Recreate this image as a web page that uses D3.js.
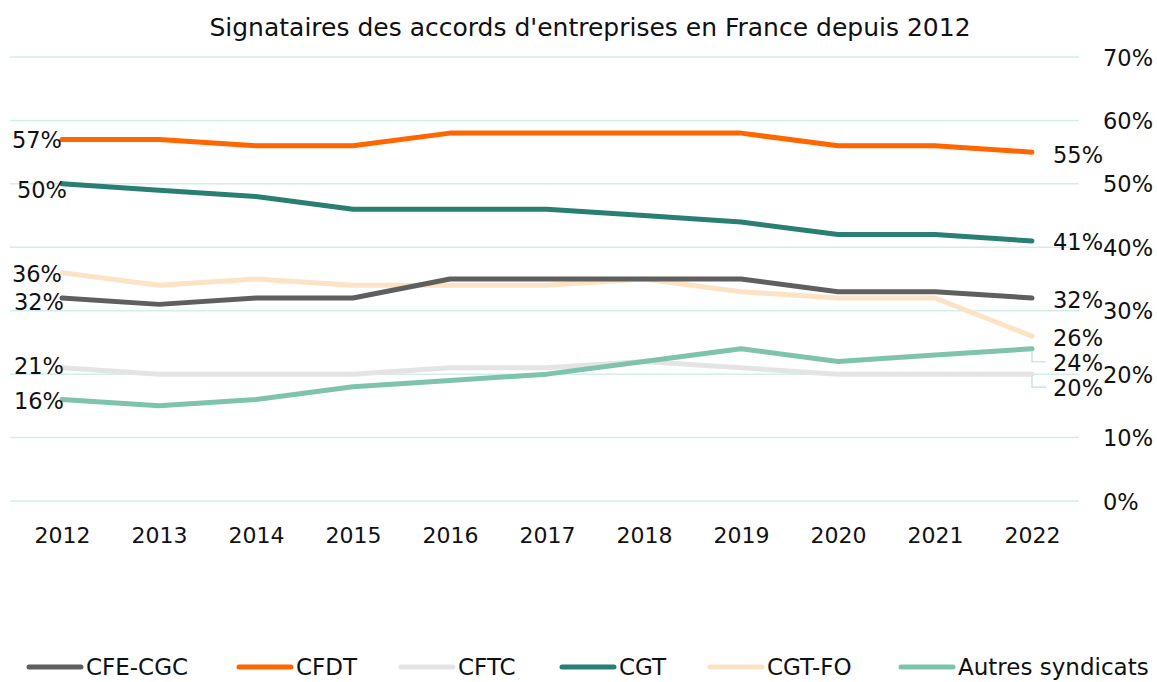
<!DOCTYPE html>
<html>
<head>
<meta charset="utf-8">
<script src="https://cdn.jsdelivr.net/npm/d3@7"></script>
<style>
  body { margin: 0; background: #fff; }
  text { font-family: "DejaVu Sans", "Liberation Sans", sans-serif; fill: #111; }
</style>
</head>
<body>
<script>
// chart data
var years = [2012, 2013, 2014, 2015, 2016, 2017, 2018, 2019, 2020, 2021, 2022];
var names = ["CFE-CGC", "CFDT", "CFTC", "CGT", "CGT-FO", "Autres syndicats"];
var cfeCgc = [32, 31, 32, 32, 35, 35, 35, 35, 33, 33, 32];
var cfdt   = [57, 57, 56, 56, 58, 58, 58, 58, 56, 56, 55];
var cftc   = [21, 20, 20, 20, 21, 21, 22, 21, 20, 20, 20];
var cgt    = [50, 49, 48, 46, 46, 46, 45, 44, 42, 42, 41];
var cgtFo  = [36, 34, 35, 34, 34, 34, 35, 33, 32, 32, 26];
var autres = [16, 15, 16, 18, 19, 20, 22, 24, 22, 23, 24];
var yTicks = [0, 10, 20, 30, 40, 50, 60, 70];

var colors = ["#5f5f5f", "#ff6600", "#e4e4e4", "#297f72", "#fbe3c4", "#7ec3ae"];
var seriesVals = [cfeCgc, cfdt, cftc, cgt, cgtFo, autres];

// label nudges (dx, dy) for first / last point labels
var leftNudge  = [[2, 4], [0, 0], [2, -2], [5, 6], [0, 1], [2, 1]];
var rightNudge = [[0, 2], [0, 3], [0, 14], [0, 1], [0, 2], [0, 14]];

var W = 1157, H = 682;
var svg = d3.select("body").append("svg")
    .attr("width", W)
    .attr("height", H);

var x = d3.scalePoint().domain(years).range([62, 1032]);
var y = d3.scaleLinear().domain([0, 70]).range([501, 57]);

// title
svg.append("text")
    .attr("x", 590).attr("y", 36)
    .attr("text-anchor", "middle")
    .style("font-size", "25px")
    .text("Signataires des accords d'entreprises en France depuis 2012");

// gridlines
svg.selectAll(".grid")
    .data(yTicks)
    .enter().append("line")
    .attr("x1", 10).attr("x2", 1079)
    .attr("y1", function(d) { return y(d); })
    .attr("y2", function(d) { return y(d); })
    .attr("stroke", "#d3eeea")
    .attr("stroke-width", 1.5);

// right axis
var yAxis = d3.axisRight(y).tickValues(yTicks).tickSize(0).tickPadding(0)
    .tickFormat(function(d) { return d + "%"; });
var ya = svg.append("g").attr("transform", "translate(1103,0)").call(yAxis);
ya.select(".domain").remove();
ya.selectAll("text").style("font-size", "22.5px").attr("fill", "#111").attr("dy", "0.36em");

// bottom axis
var xAxis = d3.axisBottom(x).tickSize(0).tickPadding(0);
var xa = svg.append("g").attr("transform", "translate(0,535)").call(xAxis);
xa.select(".domain").remove();
xa.selectAll("text").style("font-size", "22px").attr("fill", "#111").attr("dy", "0.36em");

var line = d3.line()
    .x(function(d, i) { return x(years[i]); })
    .y(function(d) { return y(d); });

// draw order: light lines first
var order = [2, 4, 0, 5, 3, 1];
order.forEach(function(k) {
    svg.append("path")
        .datum(seriesVals[k])
        .attr("d", line)
        .attr("fill", "none")
        .attr("stroke", colors[k])
        .attr("stroke-width", 5)
        .attr("stroke-linejoin", "round")
        .attr("stroke-linecap", "round");
});

// leader lines for the crowded right labels
[5, 2].forEach(function(k) {
    var v = seriesVals[k][years.length - 1];
    var x0 = x(2022), y0 = y(v);
    svg.append("path")
        .attr("d", "M" + x0 + "," + (y0 + 2) + "V" + (y0 + rightNudge[k][1] - 1) + "H" + (x0 + 14))
        .attr("fill", "none")
        .attr("stroke", "#b7e0d9")
        .attr("stroke-width", 1.2);
});

// end labels
seriesVals.forEach(function(vals, k) {
    var first = vals[0], last = vals[vals.length - 1];
    svg.append("text")
        .attr("x", x(2012) + leftNudge[k][0])
        .attr("y", y(first) + leftNudge[k][1])
        .attr("dy", "0.36em")
        .attr("text-anchor", "end")
        .style("font-size", "22.5px")
        .text(first + "%");
    svg.append("text")
        .attr("x", x(2022) + 21)
        .attr("y", y(last) + rightNudge[k][1])
        .attr("dy", "0.36em")
        .style("font-size", "22.5px")
        .text(last + "%");
});

// legend
var legX = [27, 237, 399, 560, 708, 899];
var leg = svg.selectAll(".leg")
    .data(names)
    .enter().append("g")
    .attr("transform", function(d, i) { return "translate(" + legX[i] + ",667)"; });
leg.append("line")
    .attr("x1", 2).attr("x2", 54)
    .attr("stroke", function(d, i) { return colors[i]; })
    .attr("stroke-width", 5)
    .attr("stroke-linecap", "round");
leg.append("text")
    .attr("x", 59)
    .attr("dy", "0.36em")
    .style("font-size", "23px")
    .text(function(d) { return d; });
</script>
</body>
</html>
